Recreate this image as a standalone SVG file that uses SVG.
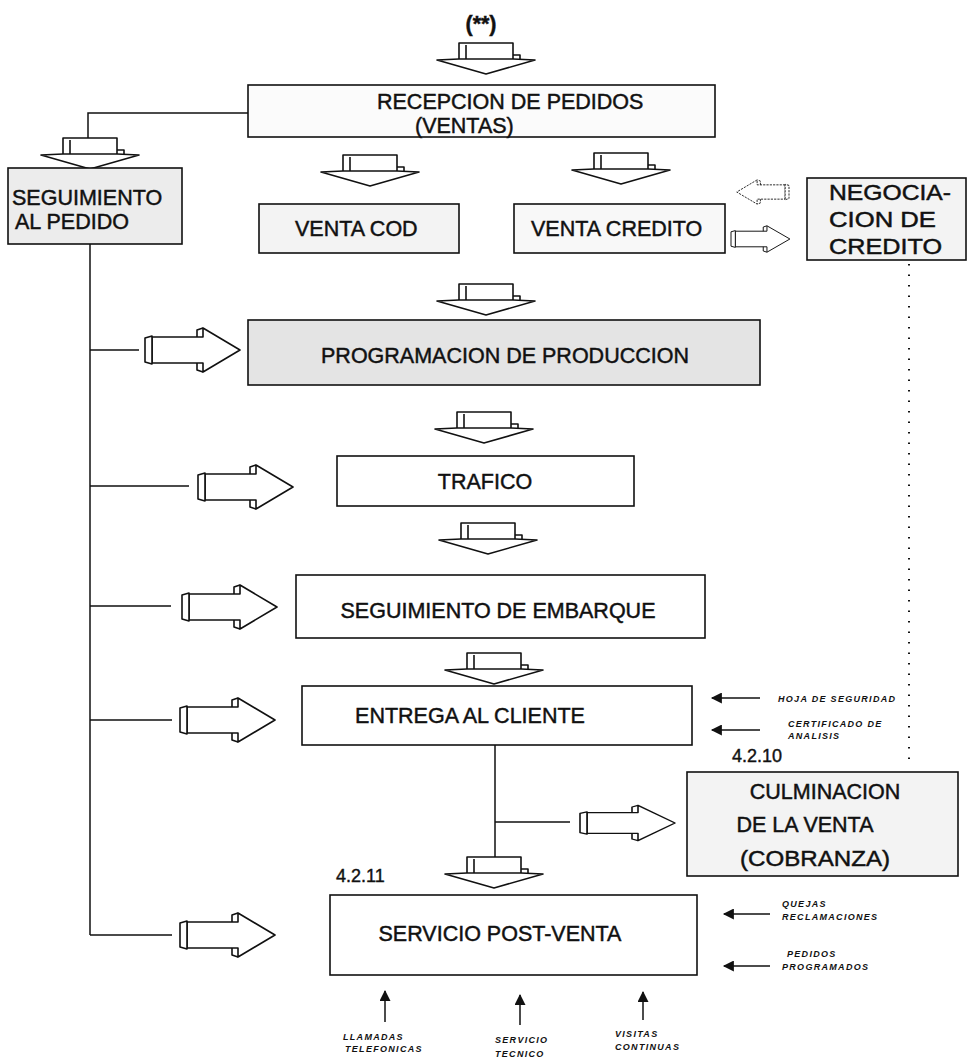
<svg xmlns="http://www.w3.org/2000/svg" xmlns:xlink="http://www.w3.org/1999/xlink" width="968" height="1061" viewBox="0 0 968 1061">
<style>
.box{stroke:#111;stroke-width:1.6;fill:#fff}
.g1{fill:#e4e4e4}.g2{fill:#ececec}.g3{fill:#f3f3f3}
.t{font-family:"Liberation Sans",Arial,sans-serif;font-size:21.5px;fill:#111;stroke:#111;stroke-width:0.45px}
.num{font-family:"Liberation Sans",Arial,sans-serif;font-size:18px;fill:#111;stroke:#111;stroke-width:0.4px}
.s{font-family:"Liberation Sans",Arial,sans-serif;font-size:9px;font-weight:bold;font-style:italic;letter-spacing:1.3px;fill:#111}
.ln{stroke:#111;stroke-width:1.5;fill:none}
.dot{stroke:#111;stroke-width:2;fill:none;stroke-dasharray:1.5 9}
.blk{fill:#fff;stroke:#111;stroke-width:1.6;stroke-linejoin:round}
</style>
<defs>
<marker id="ah" viewBox="0 0 10 10" refX="9" refY="5" markerWidth="13" markerHeight="11" markerUnits="userSpaceOnUse" orient="auto"><path d="M0,0 L10,5 L0,10 z" fill="#111"/></marker>
<g id="da" class="blk">
<rect x="-27" y="0" width="54" height="18"/>
<path d="M-20,2 V18" fill="none"/>
<polygon points="-49,17 -27,16 27,16 49,17 0,31"/>
<path d="M27,12 H34 V16" fill="none"/>
</g>
<g id="ra" class="blk">
<polygon points="7,-13 58,-13 58,-22 95,0 58,22 58,13 7,13"/>
<polygon points="0,-12 7,-14 7,14 0,12"/>
<path d="M52,-13 V-20 L58,-22 M52,13 V20 L58,22" fill="none"/>
</g>
</defs>
<rect width="968" height="1061" fill="#fff"/>

<g id="connectors">
<path class="ln" d="M248,113 H88 V138"/>
<path class="ln" d="M90,244 V935"/>
<path class="ln" d="M90,350 H139 M90,486 H189 M90,606 H171 M90,720 H172 M90,935 H172"/>
<path class="ln" d="M495,745 V857 M495,822 H570"/>
<path class="dot" d="M909,264 V760"/>
<use href="#da" transform="translate(486,43)"/>
<use href="#da" transform="translate(90,138)"/>
<use href="#da" transform="translate(370,155)"/>
<use href="#da" transform="translate(621,153)"/>
<use href="#da" transform="translate(486,284)"/>
<use href="#da" transform="translate(484,412)"/>
<use href="#da" transform="translate(488,523)"/>
<use href="#da" transform="translate(494,653)"/>
<use href="#da" transform="translate(494,857)"/>
<use href="#ra" transform="translate(145,350)"/>
<use href="#ra" transform="translate(198,487)"/>
<use href="#ra" transform="translate(182,607)"/>
<use href="#ra" transform="translate(180,720)"/>
<use href="#ra" transform="translate(180,935)"/>
<use href="#ra" transform="translate(580,823) scale(1,0.8)"/>
<use href="#ra" transform="translate(731,239) scale(0.62,0.6)"/>
<use href="#ra" transform="translate(789,192) scale(-0.55,0.55)" style="stroke-dasharray:4 2"/>
<line class="ln" marker-end="url(#ah)" x1="760" y1="698" x2="712" y2="698"/>
<line class="ln" marker-end="url(#ah)" x1="760" y1="730" x2="712" y2="730"/>
<line class="ln" marker-end="url(#ah)" x1="770" y1="914" x2="724" y2="914"/>
<line class="ln" marker-end="url(#ah)" x1="770" y1="966" x2="724" y2="966"/>
<line class="ln" marker-end="url(#ah)" x1="385" y1="1022" x2="385" y2="991"/>
<line class="ln" marker-end="url(#ah)" x1="520" y1="1025" x2="520" y2="995"/>
<line class="ln" marker-end="url(#ah)" x1="643" y1="1020" x2="643" y2="992"/>
<path d="M118,170 L125,177" stroke="#111" stroke-width="2.5"/>
</g>

<g id="top"><text class="t" x="481" y="31" text-anchor="middle" font-weight="bold" font-size="24">(**)</text></g>
<g id="lbl429"><text class="num" x="248" y="104">4.2.9</text></g>

<g id="recepcion">
<rect class="box" x="248" y="85" width="467" height="52" style="fill:#fbfbfb"/>
<text class="t" x="377" y="109" font-size="20.5">RECEPCION DE PEDIDOS</text>
<text class="t" x="415" y="133" font-size="20.5">(VENTAS)</text>
</g>

<g id="seguimiento">
<rect class="box g2" x="8" y="168" width="174" height="76"/>
<text class="t" x="12" y="205" font-size="23">SEGUIMIENTO</text>
<text class="t" x="15" y="229" font-size="23">AL PEDIDO</text>
</g>

<g id="ventacod">
<rect class="box g3" x="259" y="204" width="200" height="49"/>
<text class="t" x="295" y="236">VENTA COD</text>
</g>

<g id="ventacredito">
<rect class="box" x="514" y="204" width="211" height="49" style="fill:#f8f8f8"/>
<text class="t" x="531" y="236" font-size="22">VENTA CREDITO</text>
</g>

<g id="negociacion">
<rect class="box g3" x="807" y="178" width="159" height="82"/>
<text class="t" x="829" y="200" font-size="26" textLength="122" lengthAdjust="spacingAndGlyphs">NEGOCIA-</text>
<text class="t" x="829" y="227" font-size="26" textLength="107" lengthAdjust="spacingAndGlyphs">CION DE</text>
<text class="t" x="829" y="254" font-size="26" textLength="113" lengthAdjust="spacingAndGlyphs">CREDITO</text>
</g>

<g id="programacion">
<rect class="box g1" x="248" y="320" width="512" height="65"/>
<text class="t" x="505" y="363" text-anchor="middle" font-size="22">PROGRAMACION DE PRODUCCION</text>
</g>

<g id="trafico">
<rect class="box" x="337" y="456" width="297" height="50"/>
<text class="t" x="485" y="489" text-anchor="middle">TRAFICO</text>
</g>

<g id="embarque">
<rect class="box" x="296" y="575" width="409" height="63"/>
<text class="t" x="498" y="618" text-anchor="middle">SEGUIMIENTO DE EMBARQUE</text>
</g>

<g id="entrega">
<rect class="box" x="302" y="686" width="390" height="59"/>
<text class="t" x="470" y="723" text-anchor="middle">ENTREGA AL CLIENTE</text>
<text class="s" x="778" y="702">HOJA DE SEGURIDAD</text>
<text class="s" x="788" y="727">CERTIFICADO DE</text>
<text class="s" x="788" y="739">ANALISIS</text>
</g>

<g id="lbl4210"><text class="num" x="732" y="762">4.2.10</text></g>

<g id="culminacion">
<rect class="box g3" x="687" y="772" width="271" height="104"/>
<text class="t" x="825" y="799" text-anchor="middle" font-size="24">CULMINACION</text>
<text class="t" x="805" y="832" text-anchor="middle" font-size="24">DE LA VENTA</text>
<text class="t" x="740" y="866" font-size="24" textLength="150" lengthAdjust="spacingAndGlyphs">(COBRANZA)</text>
</g>

<g id="lbl4211"><text class="num" x="336" y="882">4.2.11</text></g>

<g id="postventa">
<rect class="box" x="330" y="895" width="367" height="80"/>
<text class="t" x="500" y="941" text-anchor="middle">SERVICIO POST-VENTA</text>
<text class="s" x="782" y="907">QUEJAS</text>
<text class="s" x="782" y="920">RECLAMACIONES</text>
<text class="s" x="787" y="957">PEDIDOS</text>
<text class="s" x="782" y="970">PROGRAMADOS</text>
<text class="s" x="343" y="1040">LLAMADAS</text>
<text class="s" x="345" y="1052">TELEFONICAS</text>
<text class="s" x="495" y="1043">SERVICIO</text>
<text class="s" x="495" y="1057">TECNICO</text>
<text class="s" x="615" y="1037">VISITAS</text>
<text class="s" x="615" y="1050">CONTINUAS</text>
</g>
</svg>
